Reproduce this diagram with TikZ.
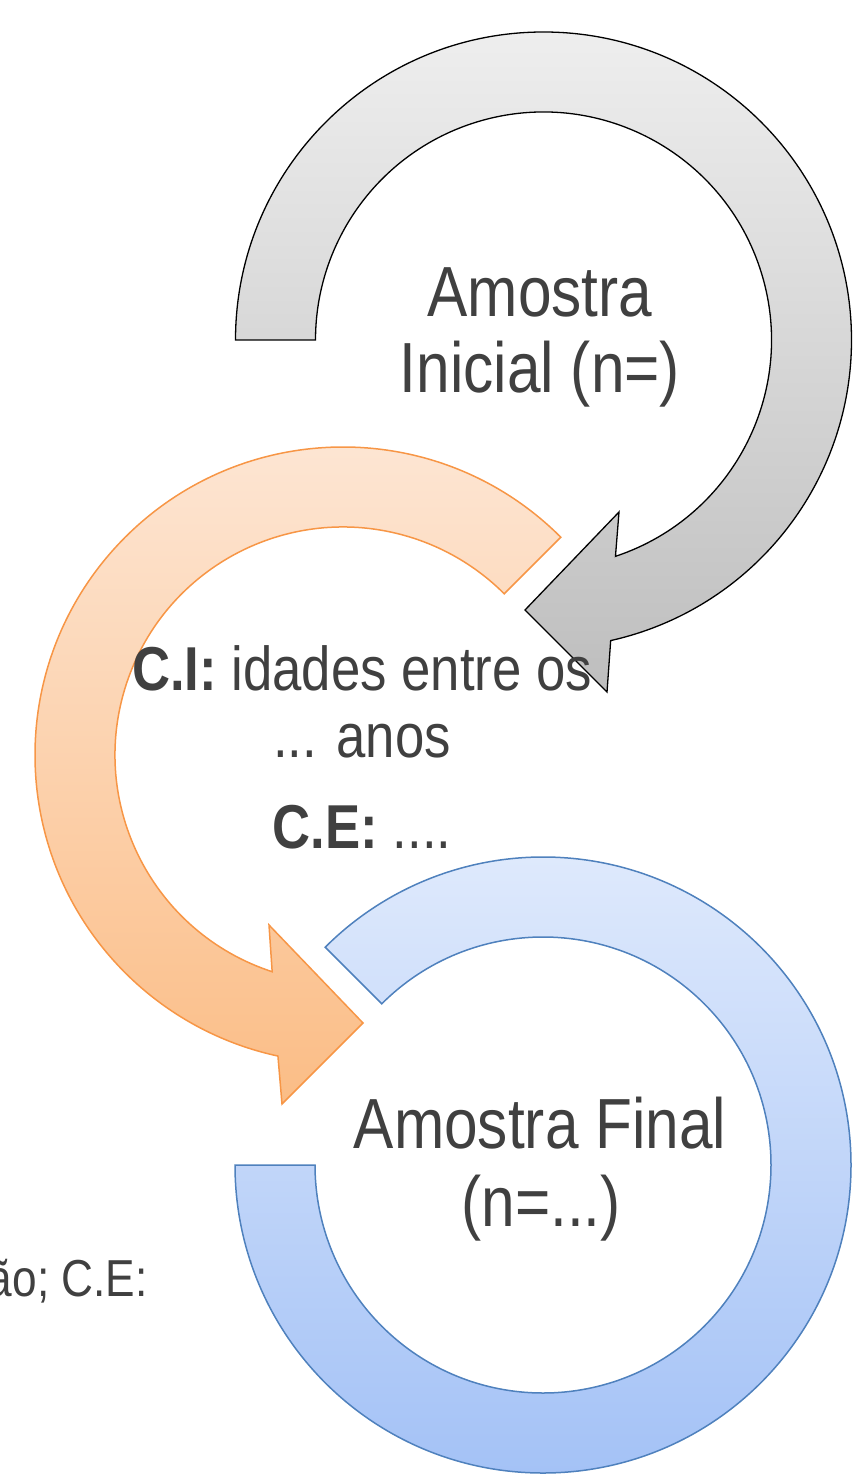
\documentclass[tikz,border=0pt]{standalone}
\usepackage{fontspec}
\setmainfont{Liberation Sans}[FakeStretch=0.85]
\definecolor{grayTop}{HTML}{EEEEEE}
\definecolor{grayBot}{HTML}{BEBEBE}
\definecolor{orTop}{HTML}{FDE7D6}
\definecolor{orBot}{HTML}{FBBD86}
\definecolor{orBorder}{HTML}{F79646}
\definecolor{blTop}{HTML}{DEE9FC}
\definecolor{blBot}{HTML}{A4C2F6}
\definecolor{blBorder}{HTML}{4F81BD}
\definecolor{txtgray}{HTML}{404040}
\begin{document}
\begin{tikzpicture}[x=0.5pt,y=-0.5pt,
  txt/.style={text=txtgray, inner sep=0pt, anchor=base},
  bigtxt/.style={txt, font=\fontsize{35.5}{38}\selectfont},
  midtxt/.style={txt, font=\fontsize{31}{34}\selectfont},
  smalltxt/.style={txt, font=\fontsize{26}{28}\selectfont}]
\useasboundingbox (0,0) rectangle (852,1476);
\clip (0,0) rectangle (852,1476);

% gray circular arrow
\draw[line width=0.65pt, draw=black, top color=grayTop, bottom color=grayBot]
  ([shift={(543.5,340)}]180:308) arc[start angle=180, end angle=437.4, radius=308]
  -- (607,692) -- (525,610) -- (619,512)
  -- ([shift={(543.5,340)}]431.6:228) arc[start angle=431.6, end angle=180, radius=228] -- cycle;

% orange circular arrow
\draw[line width=0.75pt, draw=orBorder, top color=orTop, bottom color=orBot]
  ([shift={(343,755)}]-45:228) -- ([shift={(343,755)}]-45:308)
  arc[start angle=-45, end angle=-257.8, radius=308]
  -- (282,1104) -- (363,1023) -- (269,925)
  -- ([shift={(343,755)}]-251.9:228) arc[start angle=-251.9, end angle=-45, radius=228] -- cycle;

% blue ring
\draw[line width=0.75pt, draw=blBorder, top color=blTop, bottom color=blBot]
  ([shift={(543,1165)}]180:308) arc[start angle=180, end angle=-135, radius=308]
  -- ([shift={(543,1165)}]-135:228) arc[start angle=-135, end angle=180, radius=228] -- cycle;

% texts
\node[bigtxt] (a1) at (540,317) {Amostra};
\node[bigtxt] (a2) at (540,393) {Inicial (n=)};
\node[midtxt] (c1) at (362,690) {\textbf{C.I:} idades entre os};
\node[midtxt] (c2) at (362,757) {... anos};
\node[midtxt] (c3) at (362,848) {\textbf{C.E:} ....};
\node[bigtxt] (f1) at (540,1148) {Amostra Final};
\node[bigtxt] (f2) at (541,1226) {(n=...)};
\node[smalltxt, anchor=base east] (l1) at (148,1296) {ão; C.E:};
\end{tikzpicture}
\end{document}
